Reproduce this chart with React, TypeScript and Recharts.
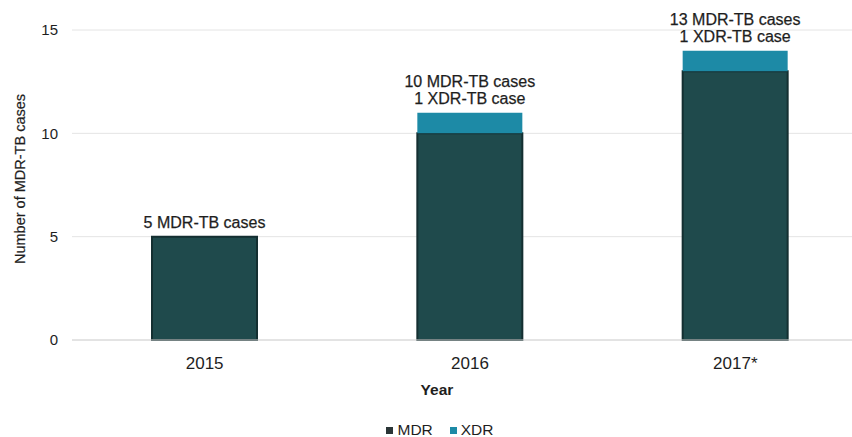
import { BarChart, Bar, XAxis, YAxis, CartesianGrid, LabelList } from 'recharts';

// ─── Data ─────────────────────────────────────────────────────────────────────

const years = ['2015', '2016', '2017*'];
const mdrCases = [5, 10, 13];
const xdrCases = [0, 1, 1];
const barNotes = [
  ['5 MDR-TB cases'],
  ['10 MDR-TB cases', '1 XDR-TB case'],
  ['13 MDR-TB cases', '1 XDR-TB case'],
];
const yTicks = [0, 5, 10, 15];

const COLOR_MDR = '#1f4a4c';
const COLOR_MDR_EDGE = '#142f31';
const COLOR_XDR = '#1d8aa6';
const COLOR_GRID = '#e4e4e4';
const COLOR_TEXT = '#1e1e1e';
const FONT = '"Liberation Sans", Arial, sans-serif';

const chartData = years.map((year, i) => ({
  year,
  mdr: mdrCases[i],
  xdr: xdrCases[i],
}));

// ─── Labels ───────────────────────────────────────────────────────────────────

// Attached to the MDR bar (always non-zero); the XDR segment on top is
// scaled from the MDR segment's pixel height so the note sits on the stack.
function BarNote(props: any) {
  const { x, y, width, height, index } = props;
  const lines = barNotes[index] ?? [];
  const pxPerCase = Number(height) / mdrCases[index];
  const top = Number(y) - xdrCases[index] * pxPerCase;
  const cx = Number(x) + Number(width) / 2;
  return (
    <g>
      {lines.map((line, i) => (
        <text
          key={line}
          x={cx}
          y={top - 14 - (lines.length - 1 - i) * 17}
          textAnchor="middle"
          dominantBaseline="central"
          fontFamily={FONT}
          fontSize={16}
          fill={COLOR_TEXT}
          stroke={COLOR_TEXT}
          strokeWidth={0.25}
        >
          {line}
        </text>
      ))}
    </g>
  );
}

function YTitle({ viewBox }: any) {
  const cx = viewBox.x + 20;
  const cy = viewBox.y + viewBox.height / 2 - 6;
  return (
    <text
      x={cx}
      y={cy}
      transform={`rotate(-90 ${cx} ${cy})`}
      textAnchor="middle"
      dominantBaseline="central"
      fontFamily={FONT}
      fontSize={14.5}
      fill={COLOR_TEXT}
      stroke={COLOR_TEXT}
      strokeWidth={0.2}
    >
      Number of MDR-TB cases
    </text>
  );
}

function XTitle({ viewBox }: any) {
  return (
    <text
      x={viewBox.x + 365}
      y={viewBox.y + 49}
      textAnchor="middle"
      dominantBaseline="central"
      fontFamily={FONT}
      fontSize={15.5}
      fontWeight="bold"
      fill={COLOR_TEXT}
    >
      Year
    </text>
  );
}

// ─── Main ─────────────────────────────────────────────────────────────────────

export default function App() {
  return (
    <div
      style={{
        position: 'absolute',
        left: 0,
        top: 0,
        width: 852,
        height: 437,
        overflow: 'hidden',
        background: '#fff',
      }}
    >
      <BarChart
        width={880}
        height={437}
        data={chartData}
        margin={{ top: 30, right: 12, left: 0, bottom: 67 }}
      >
        <CartesianGrid stroke={COLOR_GRID} vertical={false} />
        <XAxis
          dataKey="year"
          height={30}
          tickLine={false}
          axisLine={{ stroke: '#d6d6d6' }}
          tickMargin={11}
          tick={{ fill: COLOR_TEXT, fontSize: 17, fontFamily: FONT }}
          label={{ content: <XTitle /> }}
        />
        <YAxis
          width={72}
          domain={[0, 15]}
          ticks={yTicks}
          tickLine={false}
          axisLine={false}
          tickMargin={8}
          tick={{ fill: COLOR_TEXT, fontSize: 15, fontFamily: FONT }}
          label={{ content: <YTitle /> }}
        />
        <Bar
          dataKey="mdr"
          stackId="cases"
          fill={COLOR_MDR}
          stroke={COLOR_MDR_EDGE}
          strokeWidth={2}
          barSize={105}
          isAnimationActive={false}
        >
          <LabelList dataKey="mdr" content={<BarNote />} />
        </Bar>
        <Bar
          dataKey="xdr"
          stackId="cases"
          fill={COLOR_XDR}
          barSize={105}
          isAnimationActive={false}
        />
      </BarChart>

      {/* Legend */}
      <div
        style={{
          position: 'absolute',
          left: 0,
          width: 880,
          top: 421,
          display: 'flex',
          justifyContent: 'center',
          gap: 17,
          fontFamily: FONT,
          fontSize: 15.5,
          color: COLOR_TEXT,
          lineHeight: '18px',
        }}
      >
        {[
          { name: 'MDR', color: '#2a3536' },
          { name: 'XDR', color: COLOR_XDR },
        ].map((item) => (
          <span key={item.name} style={{ display: 'flex', alignItems: 'center', gap: 4 }}>
            <span style={{ width: 7, height: 7, background: item.color, display: 'inline-block' }} />
            {item.name}
          </span>
        ))}
      </div>
    </div>
  );
}
